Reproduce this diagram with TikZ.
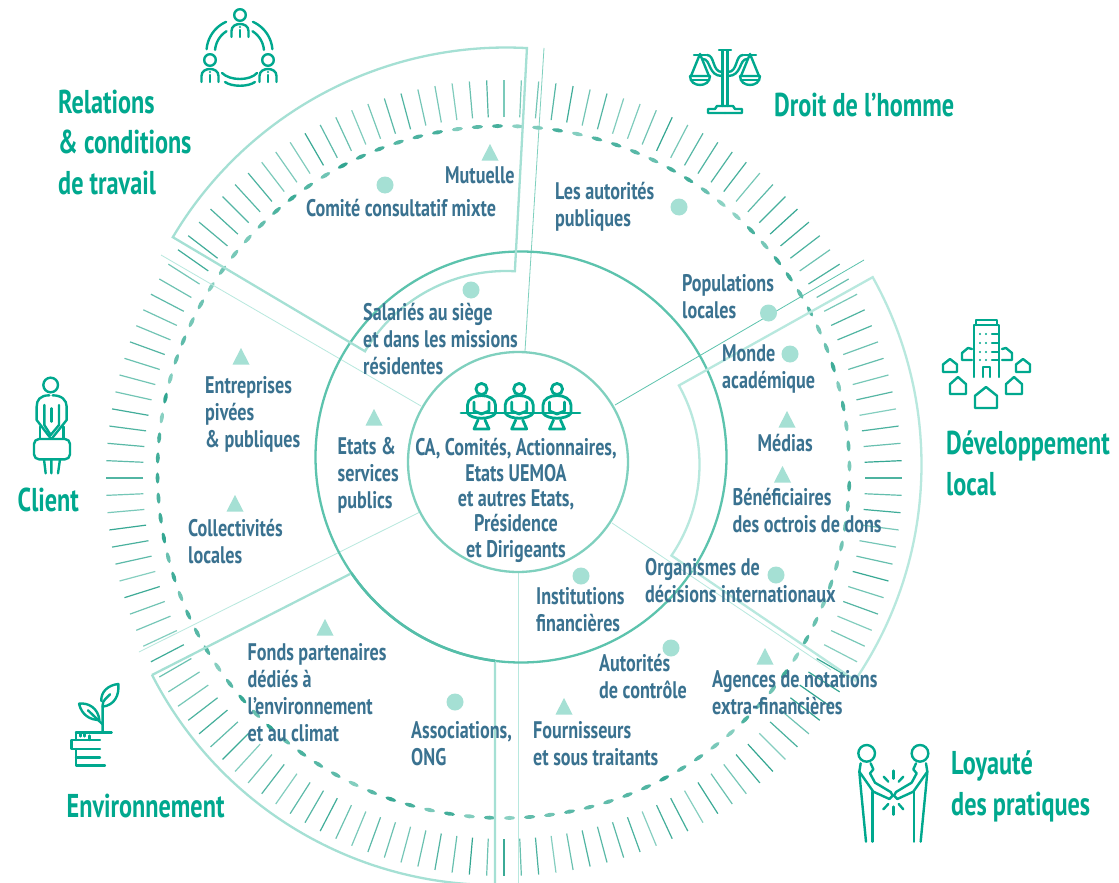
\documentclass[tikz,border=0pt]{standalone}
\usepackage{fontspec}
\newfontfamily\din[FakeStretch=0.735]{PT Sans}
\newfontfamily\dinlab[FakeStretch=0.755]{PT Sans}
\definecolor{headcol}{HTML}{00A88E}
\definecolor{labcol}{HTML}{3A7290}
\definecolor{seclight}{HTML}{A5E0D4}
\definecolor{secpale}{HTML}{B8E8DE}
\definecolor{ringmid}{HTML}{5CC3AD}
\definecolor{ringsoft}{HTML}{7FD0BE}
\definecolor{tickD}{HTML}{2FA48F}
\definecolor{tickL}{HTML}{B5E6DB}
\tikzset{
  lab/.style={font=\dinlab\bfseries\fontsize{24}{27}\selectfont,text=labcol,align=left,anchor=base west,inner sep=0pt},
  labc/.style={lab,font=\dinlab\bfseries\fontsize{24}{25.3}\selectfont,align=center,anchor=base},
  head/.style={font=\din\bfseries\fontsize{33}{40.5}\selectfont,text=headcol,align=left,anchor=base west,inner sep=0pt},
  ico/.style={draw=headcol,line width=2.4pt,line cap=round,line join=round},
  seatline/.style={ico,line width=2.8pt},
  sectorline/.style={draw=seclight,line width=2.3pt,line join=miter},
  dotmark/.style={circle,fill=seclight,inner sep=0pt,minimum size=17pt},
  trifill/.style={fill=seclight},
  spoke/.style={line width=.8pt},
}
\newcommand\tri[2]{\fill[trifill] ({#1-8.5},{#2+8.5}) -- ({#1+8.5},{#2+8.5}) -- (#1,{#2-8}) -- cycle;}
\newcommand\sect[7]{\draw[sectorline,#7] plot[domain=#5:#6,samples=70] ({#1+#4*cos(\x)},{#2-#4*sin(\x)}) -- plot[domain=#6:#5,samples=50] ({#1+#3*cos(\x)},{#2-#3*sin(\x)}) -- cycle;}
\newcommand\arcp[5]{\draw[ico] plot[domain=#4:#5,samples=20] ({#1+#3*cos(\x)},{#2-#3*sin(\x)});}
\newcommand\personA[2]{\begin{scope}[shift={(#1,#2)}]
  \draw[ico] (0,0) circle (5.8);
  \draw[ico] (-8.5,22) -- (-8.5,16) .. controls (-8.5,11) and (-4,9) .. (0,9) .. controls (4,9) and (8.5,11) .. (8.5,16) -- (8.5,22);
  \draw[ico] (0,15) -- (0,22);
  \fill[headcol] (0,12) circle (1.2);
\end{scope}}
\newcommand\houseI[4]{\draw[ico] ({#1-#3/2},#4) -- ({#1-#3/2},{#2+(#4-#2)*.42}) -- (#1,#2) -- ({#1+#3/2},{#2+(#4-#2)*.42}) -- ({#1+#3/2},#4) -- cycle;}
\newcommand\seated[1]{\begin{scope}[shift={(#1,0)}]
  \draw[seatline] (0,0) circle (5.6);
  \draw[seatline] (-14,24) -- (-14,16) .. controls (-14,10) and (-7,6.5) .. (0,6.5) .. controls (7,6.5) and (14,10) .. (14,16) -- (14,24);
  \draw[seatline] (-7.5,13) -- (-7.5,22) -- (0,25) -- (7.5,22) -- (7.5,13);
  \draw[seatline] (-14,24) .. controls (-10,31) and (10,31) .. (14,24);
  \draw[seatline] (-3.5,31) -- (-7.5,40) -- (7.5,40) -- (3.5,31);
\end{scope}}
\begin{document}
\begin{tikzpicture}[x=1pt,y=-1pt]
\useasboundingbox (0,0) rectangle (1119,883);
\fill[white] (0,0) rectangle (1119,883);
\begin{scope}
\clip (0,0) rectangle (1119,883);
% ticks
\pgfmathsetseed{11}
\foreach \i in {0,...,143}{
  \pgfmathsetmacro\tang{\i*2.5}
  \pgfmathtruncatemacro\mixv{35+rnd*65}
  \draw[line width=1.2pt,draw=tickD!\mixv!tickL] ({504+361*cos(\tang)},{478-361*sin(\tang)}) -- ({504+398*cos(\tang)},{478-398*sin(\tang)});
}
% dashes
\foreach \i in {0,...,107}{
  \pgfmathsetmacro\dang{\i*3.3333+1}
  \pgfmathtruncatemacro\mixv{30+rnd*70}
  \fill[tickD!\mixv!tickL,shift={({503.5+346*cos(\dang)},{472-346*sin(\dang)})},rotate={\dang+90}] (0,0) ellipse (5.6pt and 2pt);
}
% spokes
\draw[spoke,draw=secpale] (161,255) -- (421,406);
\draw[spoke,draw=ringsoft] (544,48) -- (525,351);
\draw[spoke,draw=ringmid] (615,405) -- (864,260);
\draw[spoke,draw=secpale] (612,523) -- (831,670);
\draw[spoke,draw=secpale] (518.6,572) -- (518.6,883);
\draw[spoke,draw=secpale] (420,512) -- (139,652);
% circles
\draw[ringmid,line width=2.3pt] (521,457) circle (205.5);
\draw[ringsoft,line width=2.3pt] (518,462) circle (110);
% sectors
\sect{506}{435}{164}{387.5}{86.9}{149.3}{}
\sect{537.5}{464.5}{162}{384}{-34.2}{29.2}{draw=secpale}
% environment sector: its inner edge lies on the ring
\draw[sectorline] plot[domain=207:270,samples=70] ({495+385*cos(\x)},{500-385*sin(\x)}) -- (495,661);
\draw[sectorline] (152,675) -- (350,574);
\draw[ringmid!85!tickD,line width=2.6pt] plot[domain=214.4:262.7,samples=40] ({521+205.5*cos(\x)},{457-205.5*sin(\x)});
% markers
\node[dotmark] (m1) at (385,185) {};
\node[dotmark] (m2) at (679,207) {};
\node[dotmark] (m3) at (471,290) {};
\node[dotmark] (m4) at (768.5,313) {};
\node[dotmark] (m5) at (790,354) {};
\node[dotmark] (m6) at (581,576) {};
\node[dotmark] (m7) at (776,575) {};
\node[dotmark] (m8) at (671,648) {};
\node[dotmark] (m9) at (455,702) {};
\tri{490}{152}\tri{241}{356}\tri{374}{417}\tri{787}{419}\tri{782.5}{474}\tri{235}{503}\tri{325}{627}\tri{564}{706}\tri{765}{656}
\end{scope}
% labels (the anchor is the baseline of the last line)
\node[lab] (t1) at (445,183) {Mutuelle};
\node[lab] (t2) at (306,216) {Comité consultatif mixte};
\node[lab] (t3) at (555,226) {Les autorités\\publiques};
\node[lab] (t4) at (363,374) {Salariés au siège\\et dans les missions\\résidentes};
\node[lab] (t5) at (682,318) {Populations\\locales};
\node[lab] (t6) at (722,388) {Monde\\académique};
\node[lab] (t7) at (205,447) {Entreprises\\pivées\\\& publiques};
\node[lab] (t8) at (337.5,508) {Etats \&\\services\\publics};
\node[labc] (t9) at (516,557) {CA, Comités, Actionnaires,\\Etats UEMOA\\et autres Etats,\\Présidence\\et Dirigeants};
\node[lab] (t10) at (757.5,451) {Médias};
\node[lab] (t11) at (732.5,532) {Bénéficiaires\\des octrois de dons};
\node[lab] (t12) at (188,563) {Collectivités\\locales};
\node[lab] (t13) at (536,631) {Institutions\\financières};
\node[lab] (t14) at (645,602) {Organismes de\\décisions internationaux};
\node[lab] (t15) at (599,698) {Autorités\\de contrôle};
\node[lab] (t16) at (712,714) {Agences de notations\\extra-financières};
\node[lab] (t17) at (533,765) {Fournisseurs\\et sous traitants};
\node[lab] (t18) at (247.5,741) {Fonds partenaires\\dédiés à\\l’environnement\\et au climat};
\node[lab] (t19) at (411,765) {Associations,\\ONG};
% headings
\node[head] (h1) at (58,194) {Relations\\\& conditions\\de travail};
\node[head] (h2) at (774,116) {Droit de l’homme};
\node[head] (h3) at (946,495) {Développement\\local};
\node[head] (h4) at (17.5,511) {Client};
\node[head] (h5) at (66.5,817) {Environnement};
\node[head] (h6) at (951,815) {Loyauté\\des pratiques};
% icon: relations
\personA{240}{15}\personA{210}{60}\personA{268}{60}
\arcp{239.5}{52}{33}{114}{175}
\arcp{239.5}{52}{24.5}{122}{175}
\arcp{239.5}{52}{33}{5}{66}
\arcp{239.5}{52}{24.5}{5}{58}
\draw[ico] (222,73) .. controls (230,81) and (250,81) .. (257,73);
\draw[ico] (225,82) .. controls (232,87) and (248,87) .. (255,82);
% icon: scales
\begin{scope}[shift={(725,0)}]
\foreach \sx in {1,-1}{
\begin{scope}[xscale=\sx]
  \draw[ico] (-2.5,51) -- (-2.5,106);
  \draw[ico] (-6,50) -- (0,50);
  \draw[ico] (-31,55) -- (-19,55);
  \draw[ico] (-18,55) .. controls (-10,55) and (-13,72) .. (-3,72);
  \draw[ico] (-22,59) .. controls (-14,59) and (-17,76) .. (-3,76);
  \draw[ico] (-25,54) -- (-34,76) (-25,54) -- (-16,76);
  \draw[ico] (-35,76) -- (-15,76) (-35,76) .. controls (-35,88) and (-15,88) .. (-15,76);
  \draw[ico] (-33,80) -- (-17,80);
  \draw[ico] (0,106) -- (-8,106) -- (-10,109) -- (-17,109) -- (-17,113) -- (0,113);
\end{scope}}
\end{scope}
% icon: development
\draw[ico] (974,377) -- (974,325) -- (999,325) -- (999,377);
\draw[ico] (976,325) -- (976,320) -- (997,320) -- (997,325);
\draw[ico] (983,377) -- (983,367) -- (990,367) -- (990,377);
\foreach \wy in {334,343,352,360}{
  \fill[headcol] (980,\wy) circle (1.2) (986,\wy) circle (1.2);
  \draw[ico] (992,\wy) -- (998,\wy);
}
\draw[ico] (972,349) -- (968,348) -- (962,353) -- (962,360) -- (972,360);
\draw[ico] (1002,349) -- (1006,348) -- (1012,353) -- (1012,360) -- (1002,360);
\houseI{950}{359}{14}{372}\houseI{958}{377}{16}{394}\houseI{986}{387}{22}{408}\houseI{1014}{377}{16}{394}\houseI{1023}{359}{14}{372}
% icon: handshake
\begin{scope}[shift={(840,730)},scale=.3333]
\foreach \sx/\ox in {1/0,-1/320}{
\begin{scope}[shift={(\ox,0)},xscale=\sx]
  \draw[ico] (80,70) circle (25);
  \draw[ico] (62,100) -- (58,125) -- (62,170) -- (78,335);
  \draw[ico] (98,185) -- (98,335);
  \draw[ico] (58,125) -- (100,185) -- (148,207) -- (158,197) -- (152,186) -- (105,158) -- (90,130) -- (100,118) -- (92,100);
\end{scope}}
\draw[ico] (160,122) -- (160,146);
\draw[ico] (131,140) -- (145,155);
\draw[ico] (190,140) -- (176,155);
\draw[ico] (160,230) -- (160,254);
\draw[ico] (130,238) -- (145,222);
\draw[ico] (190,238) -- (176,222);
\end{scope}
% icon: client
\begin{scope}[shift={(20,370)},scale=.3333]
  \draw[ico] (92,45) circle (22);
  \draw[ico] (88,76) .. controls (60,76) and (50,90) .. (50,110) -- (50,150) -- (92,205);
  \draw[ico] (98,76) .. controls (125,76) and (140,90) .. (140,110) -- (140,150) -- (96,205);
  \draw[ico] (73,105) -- (73,165) -- (92,195) -- (117,165) -- (117,105);
  \draw[ico] (94,115) -- (94,155);
  \draw[ico] (60,170) -- (60,205) (130,170) -- (130,205);
  \draw[ico,rounded corners=5pt] (42,207) rectangle (150,268);
  \draw[ico] (72,268) -- (77,310) (94,268) -- (94,310) (120,268) -- (114,310);
\end{scope}
% icon: plant
\begin{scope}[shift={(60,675)},scale=.3333]
  \draw[ico] (128,170) -- (128,90) .. controls (128,75) and (140,70) .. (150,58);
  \draw[ico] (124,78) .. controls (122,50) and (145,30) .. (175,27) .. controls (178,60) and (165,90) .. (128,95);
  \draw[ico] (57,86) .. controls (85,82) and (115,100) .. (118,135) .. controls (90,135) and (65,120) .. (57,86);
  \draw[ico] (84,106) -- (128,148);
  \draw[ico] (48,172) -- (155,172);
  \draw[ico] (48,172) -- (48,195) (61,172) -- (61,184) (74,172) -- (74,184) (88,182) -- (88,195);
  \draw[ico] (120,195) -- (35,195) -- (35,222) -- (120,222);
  \draw[ico] (48,222) -- (48,272) -- (135,272) (48,247) -- (120,247);
\end{scope}
% icon: seated people
\begin{scope}[shift={(0,389)}]
\seated{481.5}\seated{519.2}\seated{557}
\draw[seatline] (461,24) -- (580,24);
\end{scope}
\end{tikzpicture}
\end{document}
